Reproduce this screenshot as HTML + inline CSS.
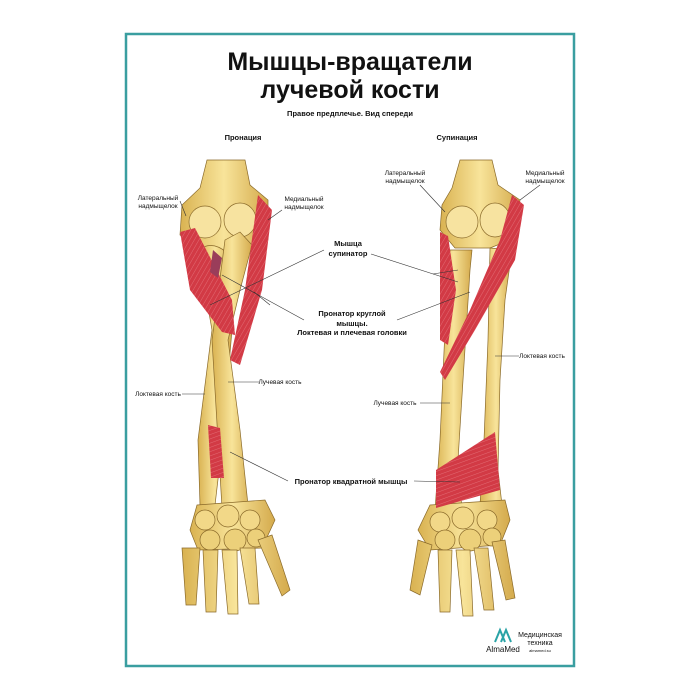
<!DOCTYPE html>
<html><head><meta charset="utf-8"><style>
html,body{margin:0;padding:0;background:#fff;}
svg{display:block;}
text{font-family:"Liberation Sans",sans-serif;fill:#111;}
</style></head><body>
<svg width="700" height="700" viewBox="0 0 700 700" xmlns="http://www.w3.org/2000/svg">
<defs>
<linearGradient id="bone" x1="0" x2="1"><stop offset="0" stop-color="#d9b251"/><stop offset="0.5" stop-color="#f8e49a"/><stop offset="1" stop-color="#d4aa4c"/></linearGradient>
<pattern id="fib" width="4" height="4" patternUnits="userSpaceOnUse" patternTransform="rotate(30)"><rect width="4" height="4" fill="#d23a45"/><line x1="0" y1="0" x2="0" y2="4" stroke="#ea7f87" stroke-width="0.7"/></pattern>
<pattern id="fib2" width="4" height="4" patternUnits="userSpaceOnUse" patternTransform="rotate(-20)"><rect width="4" height="4" fill="#d23a45"/><line x1="0" y1="0" x2="4" y2="0" stroke="#ea7f87" stroke-width="0.7"/></pattern>
</defs>
<rect x="0" y="0" width="700" height="700" fill="#fff"/>
<rect x="126" y="34" width="448" height="632" fill="#fff" stroke="#3a9ea0" stroke-width="2.5"/>

<text x="350" y="70" font-size="25" font-weight="bold" text-anchor="middle">Мышцы-вращатели</text>
<text x="350" y="98" font-size="25" font-weight="bold" text-anchor="middle">лучевой кости</text>
<text x="350" y="116" font-size="7.5" font-weight="bold" text-anchor="middle">Правое предплечье. Вид спереди</text>
<text x="243" y="140" font-size="7.5" font-weight="bold" text-anchor="middle">Пронация</text>
<text x="457" y="140" font-size="7.5" font-weight="bold" text-anchor="middle">Супинация</text>

<!-- LEFT ARM -->
<g stroke="#8a6a2a" stroke-width="0.7">
<path d="M207,160 L245,160 L250,185 L268,200 L268,240 L240,250 L200,250 L180,235 L182,205 L200,188 Z" fill="url(#bone)"/>
<ellipse cx="205" cy="222" rx="16" ry="16" fill="#f7e3a0"/>
<ellipse cx="240" cy="220" rx="16" ry="17" fill="#f7e3a0"/>
<path d="M198,250 Q212,240 226,252 L232,330 L222,445 L215,505 L200,505 L198,440 L212,330 Z" fill="url(#bone)"/>
<path d="M225,240 L240,232 L252,245 L240,290 L228,340 L240,430 L248,505 L222,508 L218,440 L212,340 Z" fill="url(#bone)"/>
<path d="M197,505 L265,500 L275,520 L262,548 L198,550 L190,530 Z" fill="url(#bone)"/>
<circle cx="205" cy="520" r="10" fill="#f2d888"/><circle cx="228" cy="516" r="11" fill="#f2d888"/><circle cx="250" cy="520" r="10" fill="#f2d888"/>
<circle cx="210" cy="540" r="10" fill="#ecd07a"/><circle cx="235" cy="540" r="11" fill="#ecd07a"/><circle cx="256" cy="538" r="9" fill="#ecd07a"/>
<path d="M182,548 L200,548 L196,605 L186,605 Z M203,550 L218,550 L216,612 L206,612 Z M222,550 L237,550 L238,614 L228,614 Z M240,548 L255,548 L259,604 L249,604 Z M258,540 L272,535 L290,590 L282,596 Z" fill="url(#bone)"/>
</g>
<path d="M180,232 L195,228 L232,300 L235,335 L222,332 L190,290 Z" fill="url(#fib)"/>
<path d="M258,195 L272,210 L262,290 L240,365 L230,360 L245,290 Z" fill="url(#fib)"/>
<path d="M213,250 L222,258 L218,278 L210,272 Z" fill="#9a3d5a"/>
<path d="M208,425 L220,428 L224,478 L211,478 Z" fill="url(#fib2)"/>

<!-- RIGHT ARM -->
<g stroke="#8a6a2a" stroke-width="0.7">
<path d="M460,160 L492,160 L498,185 L520,200 L515,238 L490,248 L455,248 L440,230 L442,205 L452,188 Z" fill="url(#bone)"/>
<ellipse cx="462" cy="222" rx="16" ry="16" fill="#f7e3a0"/>
<ellipse cx="495" cy="220" rx="15" ry="17" fill="#f7e3a0"/>
<path d="M450,250 L472,250 L470,270 L463,380 L458,460 L462,510 L435,510 L440,440 L445,330 L448,270 Z" fill="url(#bone)"/>
<path d="M490,248 L512,250 L505,300 L500,380 L498,470 L502,505 L480,505 L484,440 L488,340 Z" fill="url(#bone)"/>
<path d="M430,505 L505,500 L510,520 L500,545 L430,550 L418,530 Z" fill="url(#bone)"/>
<circle cx="440" cy="522" r="10" fill="#f2d888"/><circle cx="463" cy="518" r="11" fill="#f2d888"/><circle cx="487" cy="520" r="10" fill="#f2d888"/>
<circle cx="445" cy="540" r="10" fill="#ecd07a"/><circle cx="470" cy="540" r="11" fill="#ecd07a"/><circle cx="492" cy="537" r="9" fill="#ecd07a"/>
<path d="M418,540 L432,545 L420,595 L410,590 Z M438,550 L452,550 L450,612 L440,612 Z M456,550 L470,550 L473,616 L463,616 Z M474,548 L488,548 L494,610 L484,610 Z M492,542 L505,540 L515,598 L506,600 Z" fill="url(#bone)"/>
</g>
<path d="M512,195 L524,205 L515,260 L475,330 L445,380 L440,372 L470,310 L500,240 Z" fill="url(#fib)"/>
<path d="M440,232 L448,236 L456,290 L448,345 L440,340 Z" fill="url(#fib)"/>
<path d="M436,470 L495,432 L500,490 L436,508 Z" fill="url(#fib2)"/>

<!-- leader lines -->
<g stroke="#333" stroke-width="0.6" fill="none">
<line x1="180" y1="201" x2="186" y2="216"/>
<line x1="282" y1="210" x2="268" y2="220"/>
<line x1="324" y1="250" x2="210" y2="305"/>
<line x1="371" y1="254" x2="458" y2="282"/>
<line x1="433" y1="274" x2="458" y2="270"/>
<line x1="304" y1="320" x2="222" y2="275"/>
<line x1="270" y1="305" x2="254" y2="292"/>
<line x1="397" y1="320" x2="470" y2="292"/>
<line x1="182" y1="394" x2="205" y2="394"/>
<line x1="259" y1="382" x2="228" y2="382"/>
<line x1="288" y1="481" x2="230" y2="452"/>
<line x1="414" y1="481" x2="460" y2="482"/>
<line x1="420" y1="185" x2="445" y2="212"/>
<line x1="540" y1="185" x2="520" y2="200"/>
<line x1="519" y1="356" x2="495" y2="356"/>
<line x1="420" y1="403" x2="450" y2="403"/>
</g>

<g font-size="6.5" fill="#222">
<text x="158" y="200" text-anchor="middle">Латеральный</text>
<text x="158" y="208" text-anchor="middle">надмыщелок</text>
<text x="304" y="201" text-anchor="middle">Медиальный</text>
<text x="304" y="209" text-anchor="middle">надмыщелок</text>
<text x="405" y="175" text-anchor="middle">Латеральный</text>
<text x="405" y="183" text-anchor="middle">надмыщелок</text>
<text x="545" y="175" text-anchor="middle">Медиальный</text>
<text x="545" y="183" text-anchor="middle">надмыщелок</text>
<text x="158" y="396" text-anchor="middle">Локтевая кость</text>
<text x="280" y="384" text-anchor="middle">Лучевая кость</text>
<text x="542" y="358" text-anchor="middle">Локтевая кость</text>
<text x="395" y="405" text-anchor="middle">Лучевая кость</text>
</g>
<g font-size="7.5" font-weight="bold" text-anchor="middle">
<text x="348" y="246">Мышца</text>
<text x="348" y="256">супинатор</text>
<text x="352" y="316">Пронатор круглой</text>
<text x="352" y="326">мышцы.</text>
<text x="352" y="335">Локтевая и плечевая головки</text>
<text x="351" y="484">Пронатор квадратной мышцы</text>
</g>

<!-- logo -->
<path d="M495,642 L500,630 L505,642 M501,642 L506,630 L511,642" stroke="#2aa3a6" stroke-width="2" fill="none"/>
<text x="503" y="652" font-size="8" fill="#2aa3a6" text-anchor="middle">AlmaMed</text>
<text x="540" y="637" font-size="7" text-anchor="middle" fill="#222">Медицинская</text>
<text x="540" y="645" font-size="7" text-anchor="middle" fill="#222">техника</text>
<text x="540" y="652" font-size="4" text-anchor="middle" fill="#555">almamed.su</text>
</svg>
</body></html>
